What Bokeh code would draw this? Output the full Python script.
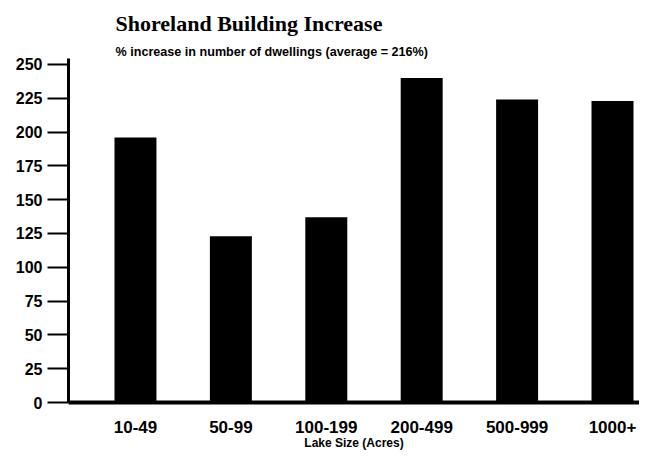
from bokeh.plotting import figure
from bokeh.models import Range1d, FixedTicker, Title, ColumnDataSource
from bokeh.embed import file_html
from bokeh.resources import INLINE

categories = ["10-49", "50-99", "100-199", "200-499", "500-999", "1000+"]
increase = [196, 123, 137, 240, 224, 223]
y_ticks = [0, 25, 50, 75, 100, 125, 150, 175, 200, 225, 250]

positions = list(range(len(categories)))
src = ColumnDataSource(dict(x=positions, top=increase))

p = figure(width=639, height=452, output_backend="svg", toolbar_location=None,
           title_location=None,
           x_range=Range1d(-0.702, 5.283), y_range=Range1d(0, 254.4),
           min_border_left=68, min_border_right=0, min_border_top=58, min_border_bottom=0)

p.vbar(x="x", top="top", width=0.44, bottom=0, source=src, color="black", line_color=None)

p.xgrid.visible = False
p.ygrid.visible = False
p.outline_line_color = None
p.background_fill_color = "white"
p.border_fill_color = "white"

# y axis
ya = p.yaxis[0]
ya.ticker = FixedTicker(ticks=y_ticks)
ya.minor_tick_line_color = None
ya.major_tick_in = 0
ya.major_tick_out = 21
ya.major_tick_line_width = 2
ya.axis_line_width = 3
ya.major_label_standoff = 5
ya.major_label_text_font = "Liberation Sans"
ya.major_label_text_font_style = "bold"
ya.major_label_text_font_size = "16px"
ya.major_label_text_color = "black"

# x axis
xa = p.xaxis[0]
xa.ticker = FixedTicker(ticks=positions)
xa.major_label_overrides = {i: c for i, c in zip(positions, categories)}
xa.minor_tick_line_color = None
xa.major_tick_in = 0
xa.major_tick_out = 0
xa.axis_line_width = 4
xa.major_label_standoff = 18
xa.major_label_text_font = "Liberation Sans"
xa.major_label_text_font_style = "bold"
xa.major_label_text_font_size = "17px"
xa.major_label_text_color = "black"
xa.axis_label = "Lake Size (Acres)"
xa.axis_label_text_font = "Liberation Sans"
xa.axis_label_text_font_style = "bold"
xa.axis_label_text_font_size = "12px"
xa.axis_label_text_color = "black"
xa.axis_label_standoff = 0

sub = Title(text="% increase in number of dwellings (average = 216%)", align="left", offset=47,
            text_font="Liberation Sans", text_font_style="bold", text_font_size="12.6px",
            text_color="black", standoff=0)
main = Title(text="Shoreland Building Increase", align="left", offset=47,
             text_font="Liberation Serif", text_font_style="bold", text_font_size="22px",
             text_color="black", standoff=13)
p.add_layout(sub, "above")
p.add_layout(main, "above")

open("out.html", "w").write(file_html(p, INLINE))
